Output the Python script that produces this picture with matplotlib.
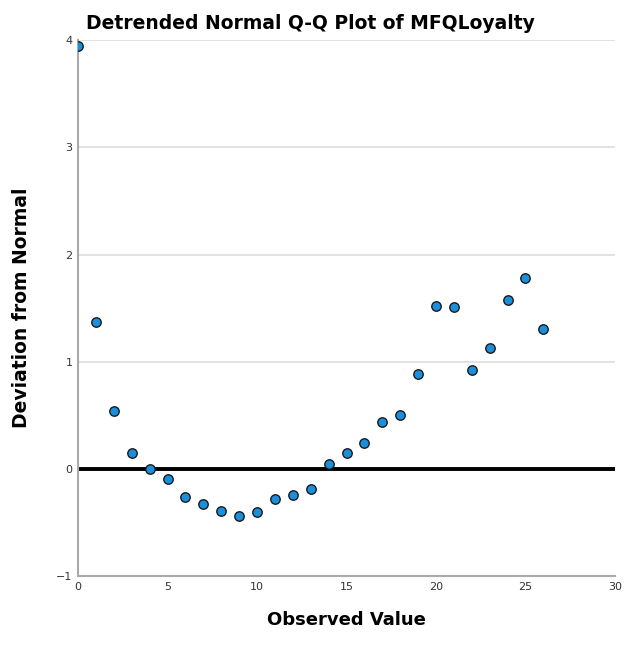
import matplotlib
matplotlib.use("Agg")
import matplotlib.pyplot as plt

observed = [0, 1, 2, 3, 4, 5, 6, 7, 8, 9, 10, 11, 12, 13,
            14, 15, 16, 17, 18, 19, 20, 21, 22, 23, 24, 25, 26]
deviation = [3.94, 1.37, 0.54, 0.15, 0.00, -0.09, -0.26, -0.33, -0.39,
             -0.44, -0.40, -0.28, -0.24, -0.19, 0.05, 0.15, 0.24, 0.44,
             0.50, 0.89, 1.52, 1.51, 0.92, 1.13, 1.58, 1.78, 1.31]
x_ticks = [0, 5, 10, 15, 20, 25, 30]
y_ticks = [-1, 0, 1, 2, 3, 4]

plt.rcParams['font.family'] = ['DejaVu Sans']

fig = plt.figure(figsize=(6.3, 6.46), dpi=100)
ax = fig.add_axes([0.124, 0.108, 0.852, 0.830])

ax.set_xlim(0, 30)
ax.set_ylim(-1, 4)
ax.set_xticks(x_ticks)
ax.set_yticks(y_ticks)
ax.tick_params(length=0, labelsize=8, colors='#333333', pad=4)

for y in y_ticks[2:]:
    ax.axhline(y, color='#dddddd', lw=1.2, zorder=0)
ax.axhline(0, color='black', lw=2.8, zorder=1)

for side in ['top', 'right']:
    ax.spines[side].set_visible(False)
for side in ['left', 'bottom']:
    ax.spines[side].set_color('#aaaaaa')
    ax.spines[side].set_linewidth(1.5)

ax.scatter(observed, deviation, s=46, color='#1a8fdc', edgecolors='#1a1a1a',
           linewidths=1.0, zorder=3)

ax.set_title('Detrended Normal Q-Q Plot of MFQLoyalty', fontsize=13.5,
             fontweight='bold', loc='left', x=0.015, pad=8)
ax.set_xlabel('Observed Value', fontsize=13, fontweight='bold', labelpad=14)
ax.set_ylabel('Deviation from Normal', fontsize=13.5, fontweight='bold', labelpad=18)

fig.savefig('out.png', dpi=100)
